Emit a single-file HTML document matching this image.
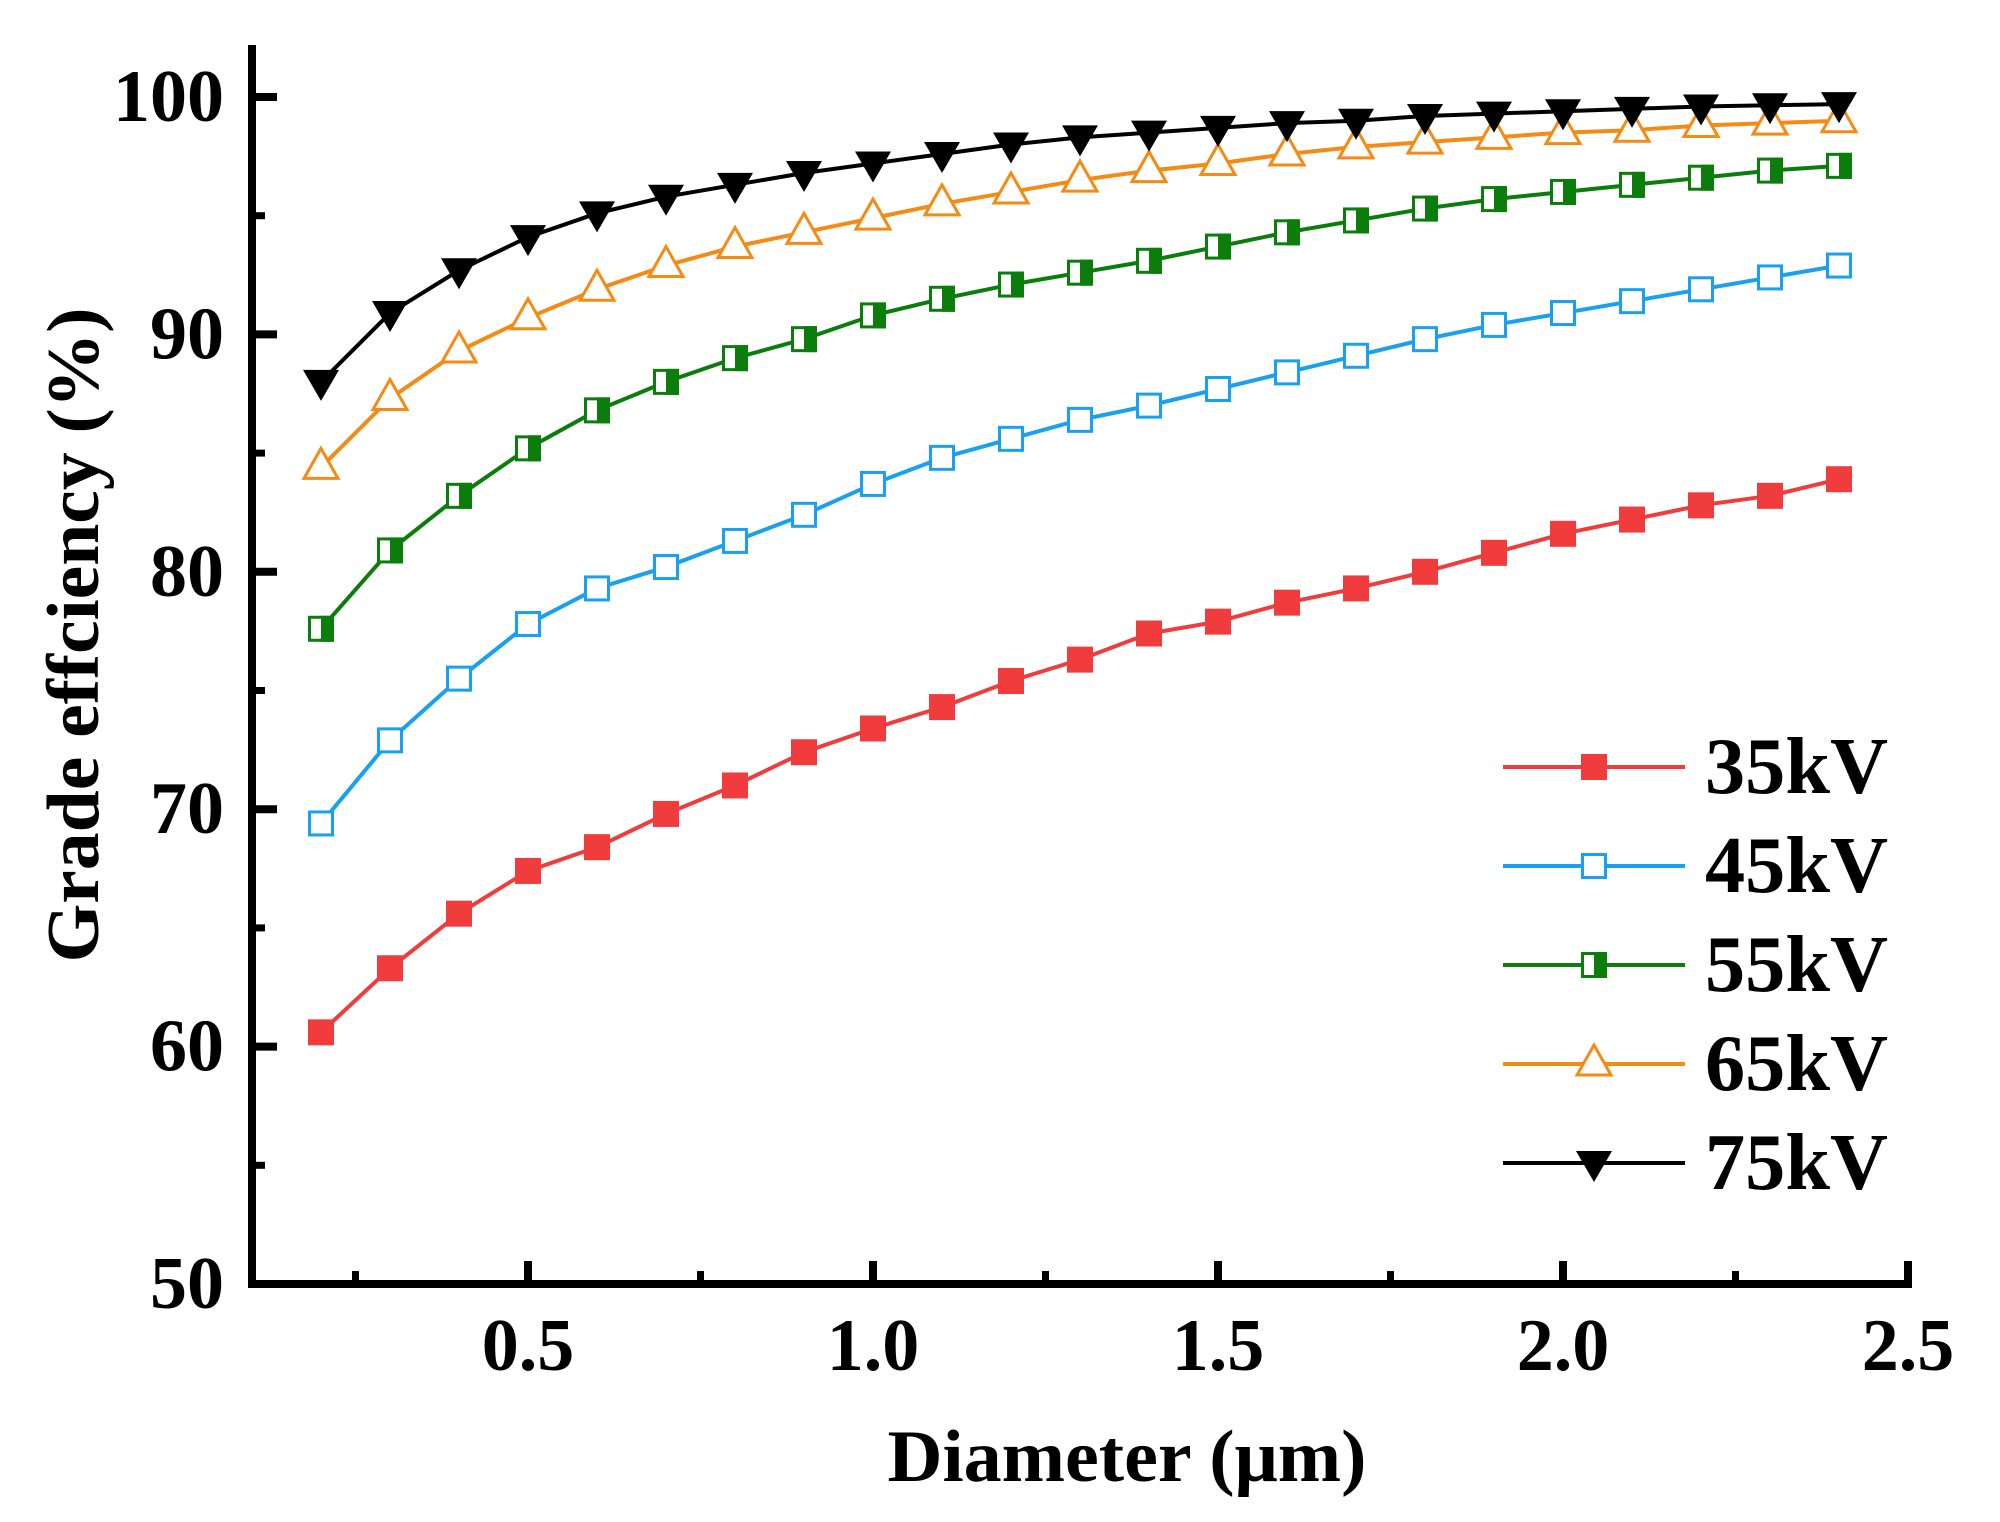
<!DOCTYPE html>
<html><head><meta charset="utf-8"><style>
html,body{margin:0;padding:0;background:#fff}
svg{display:block}
text{font-family:"Liberation Serif",serif;font-weight:bold;fill:#000}
</style></head><body>
<svg id="chart" width="2000" height="1522" viewBox="0 0 2000 1522" xmlns="http://www.w3.org/2000/svg">
<g id="grid-layer"></g>
<g id="axes"></g>
<g id="series"></g>
<g id="legend"></g>
</svg>
<script>
const diameters = [0.2,0.3,0.4,0.5,0.6,0.7,0.8,0.9,1.0,1.1,1.2,1.3,1.4,1.5,1.6,1.7,1.8,1.9,2.0,2.1,2.2,2.3,2.4];
const eff35 = [60.6,63.3,65.6,67.4,68.4,69.8,71.0,72.4,73.4,74.3,75.4,76.3,77.4,77.9,78.7,79.3,80.0,80.8,81.6,82.2,82.8,83.2,83.9];
const eff45 = [69.4,72.9,75.5,77.8,79.3,80.2,81.3,82.4,83.7,84.8,85.6,86.4,87.0,87.7,88.4,89.1,89.8,90.4,90.9,91.4,91.9,92.4,92.9];
const eff55 = [77.6,80.9,83.2,85.2,86.8,88.0,89.0,89.8,90.8,91.5,92.1,92.6,93.1,93.7,94.3,94.8,95.3,95.7,96.0,96.3,96.6,96.9,97.1];
const eff65 = [84.4,87.3,89.3,90.7,91.9,92.9,93.7,94.3,94.9,95.5,96.0,96.5,96.9,97.2,97.6,97.9,98.1,98.3,98.5,98.6,98.8,98.9,99.0];
const eff75 = [88.0,90.9,92.7,94.1,95.1,95.8,96.3,96.8,97.2,97.6,98.0,98.3,98.5,98.7,98.9,99.0,99.2,99.3,99.4,99.5,99.6,99.65,99.7];
const seriesNames = ["35kV","45kV","55kV","65kV","75kV"];
const xTicks = [0.5,1.0,1.5,2.0,2.5];
const xTickLabels = ["0.5","1.0","1.5","2.0","2.5"];
const xMinorTicks = [0.25,0.75,1.25,1.75,2.25];
const yTicks = [50,60,70,80,90,100];
const yTickLabels = ["50","60","70","80","90","100"];
const yMinorTicks = [55,65,75,85,95];

const NS="http://www.w3.org/2000/svg";
const X0=252, XPX_PER=690, XMIN=0.1;
const Y0=1284, YPX_PER=23.74, YMIN=50;
function xs(v){return X0+(v-XMIN)*XPX_PER;}
function ys(v){return Y0-(v-YMIN)*YPX_PER;}
function mk(tag,attrs,parent){const e=document.createElementNS(NS,tag);for(const k in attrs)e.setAttribute(k,attrs[k]);parent.appendChild(e);return e;}

const axes=document.getElementById('axes');
let yAxis=mk('line',{x1:252,y1:45,x2:252,y2:1288,stroke:'#000','stroke-width':8},axes);


let xAxis=mk('line',{x1:248,y1:1284,x2:1912,y2:1284,stroke:'#000','stroke-width':8},axes);


xTicks.forEach((t,i)=>{
  const x=xs(t);
  let tk=mk('line',{x1:x,y1:1284,x2:x,y2:1261,stroke:'#000','stroke-width':8},axes);
  
  
  let lb=mk('text',{x:x,y:1370,'text-anchor':'middle','font-size':74},axes);
  lb.textContent=xTickLabels[i];
  
  
});
xMinorTicks.forEach(t=>{
  const x=xs(t);
  let tk=mk('line',{x1:x,y1:1284,x2:x,y2:1271,stroke:'#000','stroke-width':7},axes);
  
  
});
yTicks.forEach((t,i)=>{
  const y=ys(t);
  let tk=mk('line',{x1:252,y1:y,x2:277,y2:y,stroke:'#000','stroke-width':8},axes);
  
  
  let lb=mk('text',{x:224,y:y+24,'text-anchor':'end','font-size':74},axes);
  lb.textContent=yTickLabels[i];
  
  
});
yMinorTicks.forEach(t=>{
  const y=ys(t);
  let tk=mk('line',{x1:252,y1:y,x2:265,y2:y,stroke:'#000','stroke-width':7},axes);
  
  
});
let xt=mk('text',{x:1127,y:1481,'text-anchor':'middle','font-size':74,textLength:479,lengthAdjust:'spacingAndGlyphs'},axes);
xt.textContent='Diameter (μm)';


let yt=mk('text',{x:0,y:0,'text-anchor':'middle','font-size':74,textLength:655,lengthAdjust:'spacingAndGlyphs',transform:'translate(98,635) rotate(-90)'},axes);
yt.textContent='Grade effciency (%)';



const colors=['#f03c3c','#1aa0f0','#0a7d0a','#f58a14','#000000'];
const allData=[eff35,eff45,eff55,eff65,eff75];
const S=13;
function marker(kind,x,y,color,parent){
  const g=mk('g',{},parent);
  if(kind===0){mk('rect',{x:x-S,y:y-S,width:2*S,height:2*S,fill:color},g);}
  else if(kind===1){mk('rect',{x:x-S+1.5,y:y-S+1.5,width:2*S-3,height:2*S-3,fill:'#fff',stroke:color,'stroke-width':3},g);}
  else if(kind===2){mk('rect',{x:x-S+1.5,y:y-S+1.5,width:2*S-3,height:2*S-3,fill:'#fff',stroke:color,'stroke-width':3},g);mk('rect',{x:x,y:y-S,width:S,height:2*S,fill:color},g);}
  else if(kind===3){mk('polygon',{points:`${x},${y-19} ${x+17},${y+11} ${x-17},${y+11}`,fill:'#fff',stroke:color,'stroke-width':3},g);}
  else {mk('polygon',{points:`${x-18},${y-12} ${x+18},${y-12} ${x},${y+19}`,fill:color},g);}
  return g;
}
const series=document.getElementById('series');
allData.forEach((arr,si)=>{
  const g=mk('g',{},series);
  
  
  const pts=arr.map((v,i)=>xs(diameters[i])+','+ys(v)).join(' ');
  let pl=mk('polyline',{points:pts,fill:'none',stroke:colors[si],'stroke-width':4},g);
  
  
  arr.forEach((v,i)=>{
    const m=marker(si,xs(diameters[i]),ys(v),colors[si],g);
    
    
  });
});
const legend=document.getElementById('legend');
seriesNames.forEach((n,si)=>{
  const y=767+si*99;
  const g=mk('g',{},legend);
  
  
  mk('line',{x1:1503,y1:y,x2:1685,y2:y,stroke:colors[si],'stroke-width':4},g);
  marker(si,1594,y,colors[si],g);
  const t=mk('text',{x:1705,y:y+26,'font-size':80,textLength:183,lengthAdjust:'spacingAndGlyphs'},g);
  t.textContent=n;
});
</script>
</body></html>
